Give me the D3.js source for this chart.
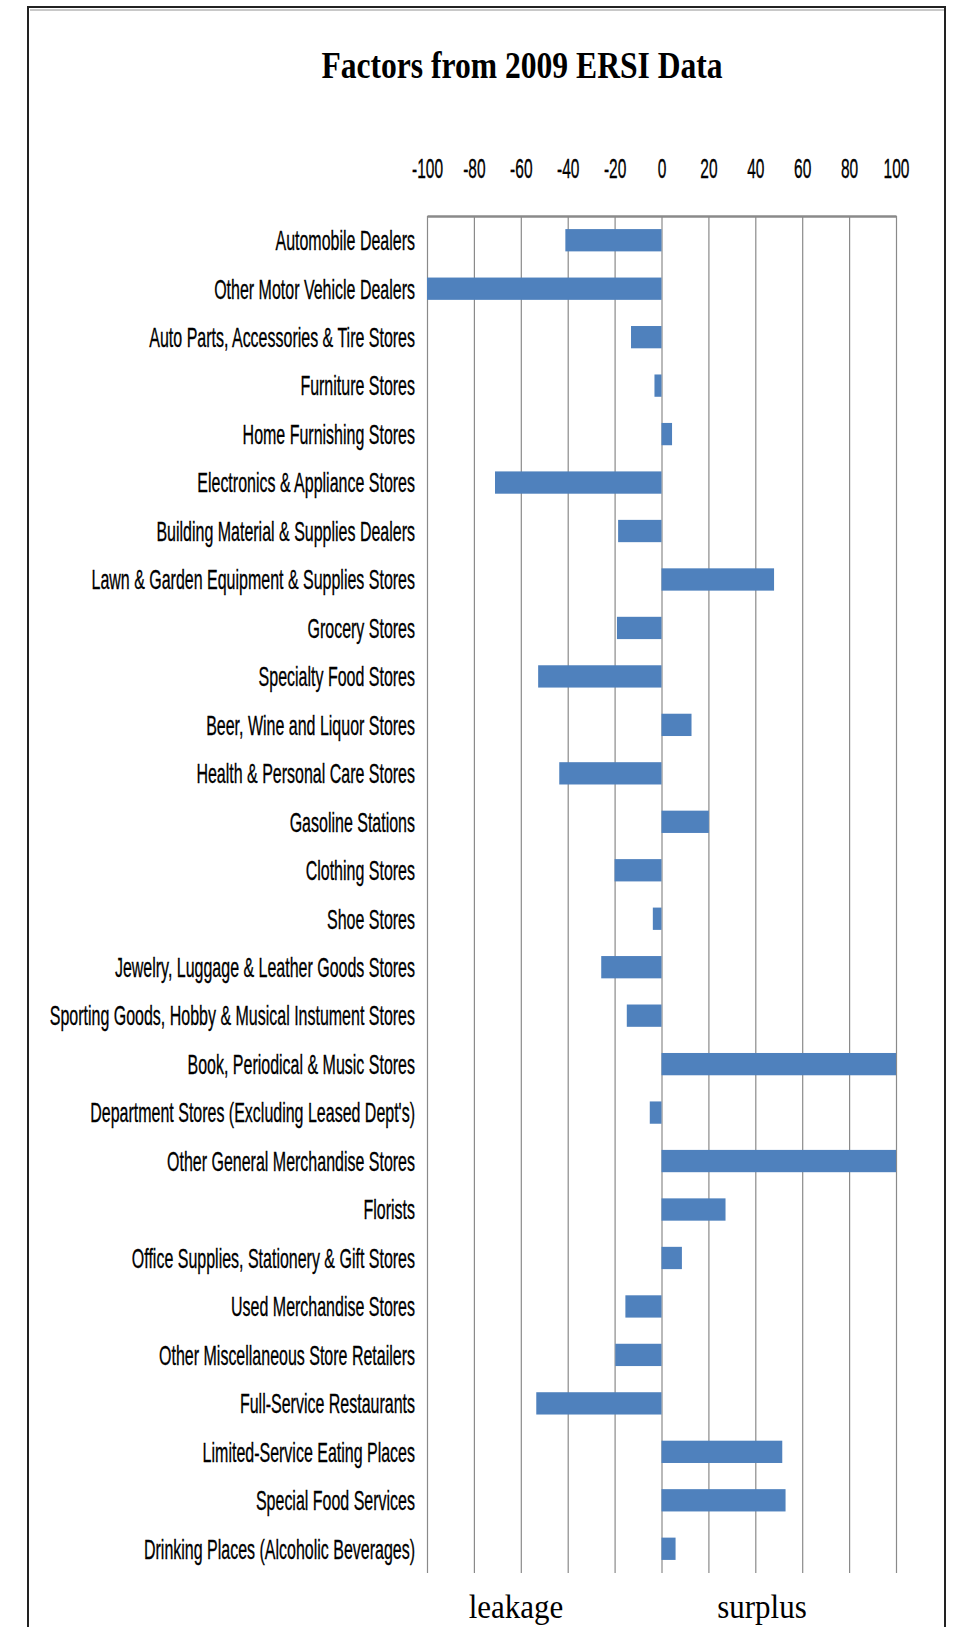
<!DOCTYPE html>
<html>
<head>
<meta charset="utf-8">
<script src="https://cdnjs.cloudflare.com/ajax/libs/d3/7.8.5/d3.min.js"></script>
<style>
  body { margin: 0; background: #fff; }
  svg { display: block; }
  .cat text, .ticks text { font-family: "Liberation Sans", Arial, sans-serif; fill: #000; stroke: #000; stroke-width: 0.2; }
  .serif { font-family: "Liberation Serif", "Times New Roman", serif; fill: #000; }
</style>
</head>
<body>
<svg id="chart"></svg>
<script>
// retail categories, top to bottom
const categories = [
  'Automobile Dealers',
  'Other Motor Vehicle Dealers',
  'Auto Parts, Accessories & Tire Stores',
  'Furniture Stores',
  'Home Furnishing Stores',
  'Electronics & Appliance Stores',
  'Building Material & Supplies Dealers',
  'Lawn & Garden Equipment & Supplies Stores',
  'Grocery Stores',
  'Specialty Food Stores',
  'Beer, Wine and Liquor Stores',
  'Health & Personal Care Stores',
  'Gasoline Stations',
  'Clothing Stores',
  'Shoe Stores',
  'Jewelry, Luggage & Leather Goods Stores',
  'Sporting Goods, Hobby & Musical Instument Stores',
  'Book, Periodical & Music Stores',
  "Department Stores (Excluding Leased Dept's)",
  'Other General Merchandise Stores',
  'Florists',
  'Office Supplies, Stationery & Gift Stores',
  'Used Merchandise Stores',
  'Other Miscellaneous Store Retailers',
  'Full-Service Restaurants',
  'Limited-Service Eating Places',
  'Special Food Services',
  'Drinking Places (Alcoholic Beverages)'
];

// leakage / surplus factor
const factors = [
  -41, -100, -13, -3, 4.5, -71, -18.5, 48,
  -19, -52.6, 12.8, -43.6, 20.2, -20, -3.7, -25.7,
  -14.8, 100, -5, 100, 27.3, 8.7, -15.4, -19.7,
  -53.4, 51.5, 52.9, 6
];

const xTicks = [-100, -80, -60, -40, -20, 0, 20, 40, 60, 80, 100];

const W = 957, H = 1627;
const plot = { left: 427, right: 896, top: 216, bottom: 1573 };

const svg = d3.select('#chart').attr('width', W).attr('height', H);

svg.append('rect').attr('width', W).attr('height', H).attr('fill', '#fff');

// outer frame (open at the bottom)
svg.append('path')
  .attr('d', `M28,${H} V7 H945 V${H}`)
  .attr('fill', 'none')
  .attr('stroke', '#222')
  .attr('stroke-width', 2);
svg.append('line')
  .attr('x1', 30).attr('x2', 944).attr('y1', 10).attr('y2', 10)
  .attr('stroke', '#c8c8c8').attr('stroke-width', 2);

const x = d3.scaleLinear().domain([-100, 100]).range([plot.left, plot.right]);
const y = d3.scaleBand()
  .domain(categories)
  .range([plot.top, plot.bottom])
  .paddingInner(0.54)
  .paddingOuter(0.27);

// gridlines + top axis line
const grid = svg.append('g')
  .attr('class', 'ticks')
  .attr('transform', `translate(0,${plot.top})`)
  .call(d3.axisTop(x)
    .tickValues(xTicks)
    .tickSize(-(plot.bottom - plot.top))
    .tickSizeOuter(0)
    .tickFormat(d => String(d)));

grid.select('.domain').attr('stroke', '#8a8a8a').attr('stroke-width', 2.5);
grid.selectAll('.tick line').attr('stroke', '#8a8a8a').attr('stroke-width', 1.2);
grid.selectAll('.tick text')
  .attr('y', 0)
  .attr('dy', 0)
  .attr('font-size', 15.5)
  .attr('transform', 'translate(0,-38) scale(1,1.8)');

// bars
svg.append('g')
  .selectAll('rect')
  .data(factors)
  .join('rect')
  .attr('x', d => x(Math.min(0, d)))
  .attr('y', (d, i) => y(categories[i]))
  .attr('width', d => Math.abs(x(d) - x(0)))
  .attr('height', y.bandwidth())
  .attr('fill', '#4f81bd');

// category labels
const cat = svg.append('g')
  .attr('class', 'cat')
  .attr('transform', `translate(${plot.left},0)`)
  .call(d3.axisLeft(y).tickSize(0).tickPadding(12));

cat.select('.domain').remove();
cat.selectAll('.tick text')
  .attr('font-size', 16)
  .attr('dy', '0.36em')
  .attr('y', 0);

// the scaled text needs its own y; move the tick group offset into the text
cat.selectAll('.tick').each(function () {
  const t = d3.select(this);
  const ty = +t.attr('transform').match(/,([\d.]+)\)/)[1];
  t.attr('transform', null);
  t.select('text').attr('transform', `translate(0,${ty}) scale(1,1.7)`);
});

// title
svg.append('text')
  .attr('class', 'serif')
  .attr('text-anchor', 'middle')
  .attr('font-weight', 'bold')
  .attr('font-size', 31.6)
  .attr('transform', 'translate(522,78) scale(1,1.2)')
  .text('Factors from 2009 ERSI Data');

// bottom captions
svg.append('text')
  .attr('class', 'serif')
  .attr('text-anchor', 'middle')
  .attr('font-size', 31)
  .attr('transform', 'translate(516,1618) scale(1,1.1)')
  .text('leakage');

svg.append('text')
  .attr('class', 'serif')
  .attr('text-anchor', 'middle')
  .attr('font-size', 31)
  .attr('transform', 'translate(762,1618) scale(1,1.1)')
  .text('surplus');
</script>
</body>
</html>
